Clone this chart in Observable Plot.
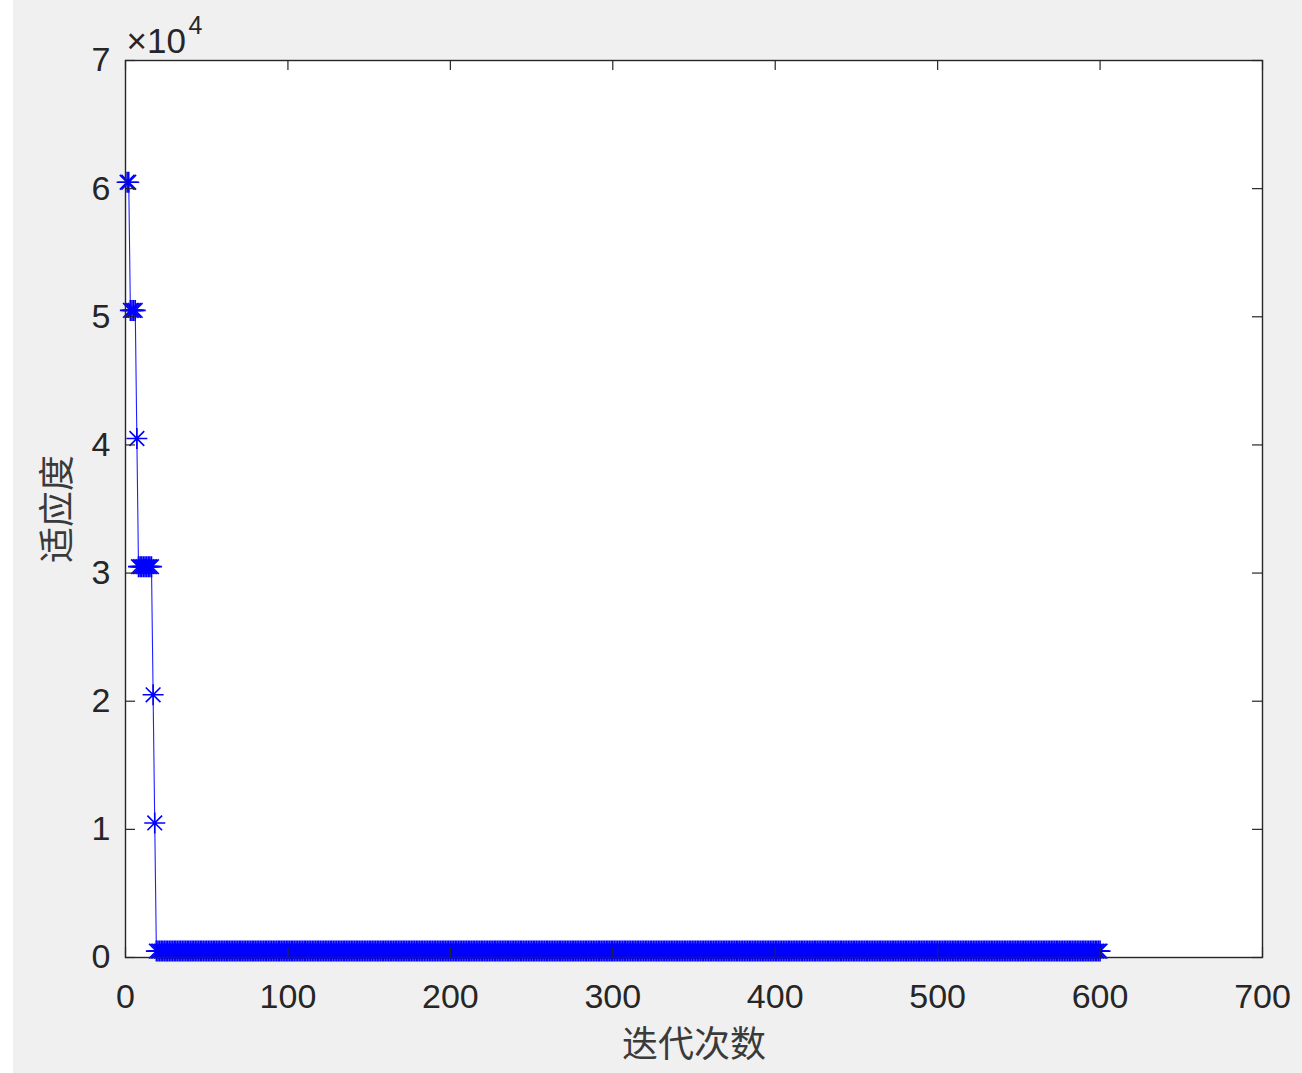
<!DOCTYPE html>
<html>
<head>
<meta charset="utf-8">
<script src="https://cdn.jsdelivr.net/npm/d3@7"></script>
<script src="https://cdn.jsdelivr.net/npm/@observablehq/plot@0.6"></script>
<style>
  html, body { margin: 0; padding: 0; background: #f0f0f0; }
  #chart { width: 1302px; height: 1073px; }
</style>
</head>
<body>
<div id="chart"></div>
<script>
// Fitness levels (run-length: value, number of consecutive iterations)
const levels = [60500, 50500, 40500, 30500, 20500, 10500, 500];
const counts = [2, 4, 1, 9, 1, 1, 582];
const xTicks = [0, 100, 200, 300, 400, 500, 600, 700];
const yTicks = [0, 10000, 20000, 30000, 40000, 50000, 60000, 70000];
const xLabel = "迭代次数";
const yLabel = "适应度";

// expand run-length table into per-iteration points
const data = [];
let it = 1;
levels.forEach((v, i) => {
  for (let k = 0; k < counts[i]; k++) data.push({iter: it++, fit: v});
});

// MATLAB-style asterisk marker
const asterisk = {
  draw(ctx, size) {
    const r = Math.sqrt(size / Math.PI);
    const d = r * 0.7;
    ctx.moveTo(-r, 0); ctx.lineTo(r, 0);
    ctx.moveTo(0, -r); ctx.lineTo(0, r);
    ctx.moveTo(-d, -d); ctx.lineTo(d, d);
    ctx.moveTo(-d, d); ctx.lineTo(d, -d);
  }
};

const W = 1302, H = 1073;
const mL = 125, mR = 40, mT = 60, mB = 116;
const pw = W - mL - mR, ph = H - mT - mB;
const axisColor = "#262626";
const tickFont = "'Liberation Sans', Arial, Helvetica, sans-serif";
const cjkFont = "'Noto Sans CJK SC', sans-serif";

const chart = Plot.plot({
  width: W,
  height: H,
  marginLeft: mL,
  marginRight: mR,
  marginTop: mT,
  marginBottom: mB,
  style: {
    background: "linear-gradient(to right, #ffffff 13px, #f0f0f0 13px)",
    overflow: "visible",
    fontFamily: tickFont
  },
  x: {domain: [0, 700]},
  y: {domain: [0, 70000]},
  marks: [
    Plot.frame({fill: "white", stroke: null}),
    Plot.line(data, {x: "iter", y: "fit", stroke: "#2020ff", strokeWidth: 1.1}),
    Plot.dot(data, {x: "iter", y: "fit", symbol: asterisk, r: 10.5, stroke: "#0000ff", strokeWidth: 1.6, fill: "none"}),
    // inward ticks on all four sides
    Plot.tickY(yTicks, {y: d => d, insetRight: pw - 10, stroke: axisColor, strokeWidth: 1.2}),
    Plot.tickY(yTicks, {y: d => d, insetLeft: pw - 10, stroke: axisColor, strokeWidth: 1.2}),
    Plot.tickX(xTicks, {x: d => d, insetTop: ph - 10, stroke: axisColor, strokeWidth: 1.2}),
    Plot.tickX(xTicks, {x: d => d, insetBottom: ph - 10, stroke: axisColor, strokeWidth: 1.2}),
    Plot.frame({stroke: axisColor, strokeWidth: 1.4}),
    Plot.axisX({ticks: xTicks, tickSize: 0, tickPadding: 26, fontSize: 34, fill: axisColor, label: null, fontFamily: tickFont}),
    Plot.axisY({ticks: yTicks, tickSize: 0, tickPadding: 15, fontSize: 34, fill: axisColor, label: null, tickFormat: d => d / 10000, fontFamily: tickFont}),
    // exponent label
    Plot.text(["×10"], {frameAnchor: "top-left", text: d => d, dx: 1, dy: -8, textAnchor: "start", lineAnchor: "bottom", fontSize: 35, fill: axisColor, fontFamily: tickFont}),
    Plot.text(["4"], {frameAnchor: "top-left", text: d => d, dx: 63, dy: -27, textAnchor: "start", lineAnchor: "bottom", fontSize: 25, fill: axisColor, fontFamily: tickFont}),
    // axis titles
    Plot.text([xLabel], {frameAnchor: "bottom", text: d => d, dy: 88, textAnchor: "middle", lineAnchor: "middle", fontSize: 36, fill: "#3a3a3a", fontFamily: cjkFont}),
    Plot.text([yLabel], {frameAnchor: "left", text: d => d, dx: -67, rotate: -90, textAnchor: "middle", lineAnchor: "middle", fontSize: 36, fill: "#3a3a3a", fontFamily: cjkFont})
  ]
});
document.getElementById("chart").appendChild(chart);
</script>
</body>
</html>
